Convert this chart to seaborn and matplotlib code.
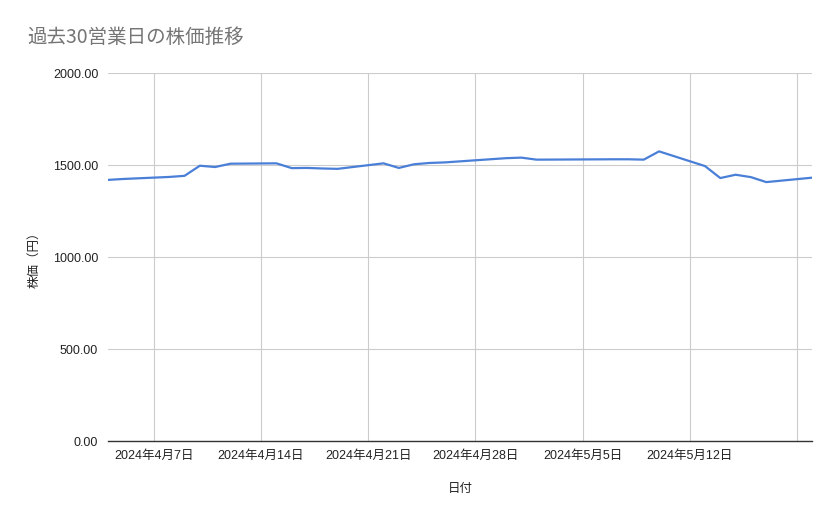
import matplotlib
matplotlib.use("Agg")
import matplotlib.pyplot as plt
import numpy as np
import pandas as pd
import seaborn as sns

# 30 business days (Japanese holidays Apr 29, May 3, May 6 excluded)
dates = [
    "2024-04-04", "2024-04-05", "2024-04-08", "2024-04-09", "2024-04-10",
    "2024-04-11", "2024-04-12", "2024-04-15", "2024-04-16", "2024-04-17",
    "2024-04-18", "2024-04-19", "2024-04-22", "2024-04-23", "2024-04-24",
    "2024-04-25", "2024-04-26", "2024-04-30", "2024-05-01", "2024-05-02",
    "2024-05-07", "2024-05-08", "2024-05-09", "2024-05-10", "2024-05-13",
    "2024-05-14", "2024-05-15", "2024-05-16", "2024-05-17", "2024-05-20",
]
prices = [
    1420, 1425, 1436, 1442, 1497,
    1490, 1508, 1510, 1484, 1485,
    1482, 1480, 1510, 1485, 1505,
    1512, 1515, 1538, 1541, 1530,
    1532, 1532, 1530, 1575, 1495,
    1430, 1448, 1435, 1408, 1432,
]
tick_dates = ["2024-04-07", "2024-04-14", "2024-04-21", "2024-04-28",
              "2024-05-05", "2024-05-12", "2024-05-19"]
tick_labels = ["2024年4月7日", "2024年4月14日", "2024年4月21日", "2024年4月28日",
               "2024年5月5日", "2024年5月12日", ""]
y_ticks = [0, 500, 1000, 1500, 2000]

df = pd.DataFrame({"日付": pd.to_datetime(dates), "株価": prices})

sns.set_style("white")
plt.rcParams["font.family"] = ["Liberation Sans", "Noto Sans CJK JP", "DejaVu Sans"]

fig = plt.figure(figsize=(8.39, 5.19), dpi=100)
ax = fig.add_axes([0.1287, 0.150, 0.8393, 0.709])

sns.lineplot(data=df, x="日付", y="株価", ax=ax, color="#4a7fd8", linewidth=1.6)

ax.set_xlim(pd.Timestamp("2024-04-04"), pd.Timestamp("2024-05-20"))
ax.set_ylim(0, 2000)
ax.set_yticks(y_ticks)
ax.set_yticklabels([f"{v:.2f}" for v in y_ticks])
ax.set_xticks(pd.to_datetime(tick_dates))
ax.set_xticklabels(tick_labels)

ax.grid(True, color="#cccccc", linewidth=0.8)
ax.set_axisbelow(True)
for side in ["left", "right", "top"]:
    ax.spines[side].set_visible(False)
ax.spines["bottom"].set_color("#333333")
ax.spines["bottom"].set_linewidth(1.0)
ax.tick_params(axis="both", length=0, labelsize=9, colors="#222222")
ax.tick_params(axis="x", pad=6)
ax.tick_params(axis="y", pad=7)

ax.set_xlabel("日付", fontsize=9, color="#222222", labelpad=15,
              family=["Noto Sans CJK JP", "DejaVu Sans"])
ax.set_ylabel("株価（円）", fontsize=9, color="#222222", labelpad=9,
              family=["Noto Sans CJK JP", "DejaVu Sans"])

fig.text(0.032, 0.927, "過去30営業日の株価推移", fontsize=14, color="#757575",
         va="center", ha="left", family=["Noto Sans CJK JP", "DejaVu Sans"])

fig.savefig("out.png", dpi=100)
